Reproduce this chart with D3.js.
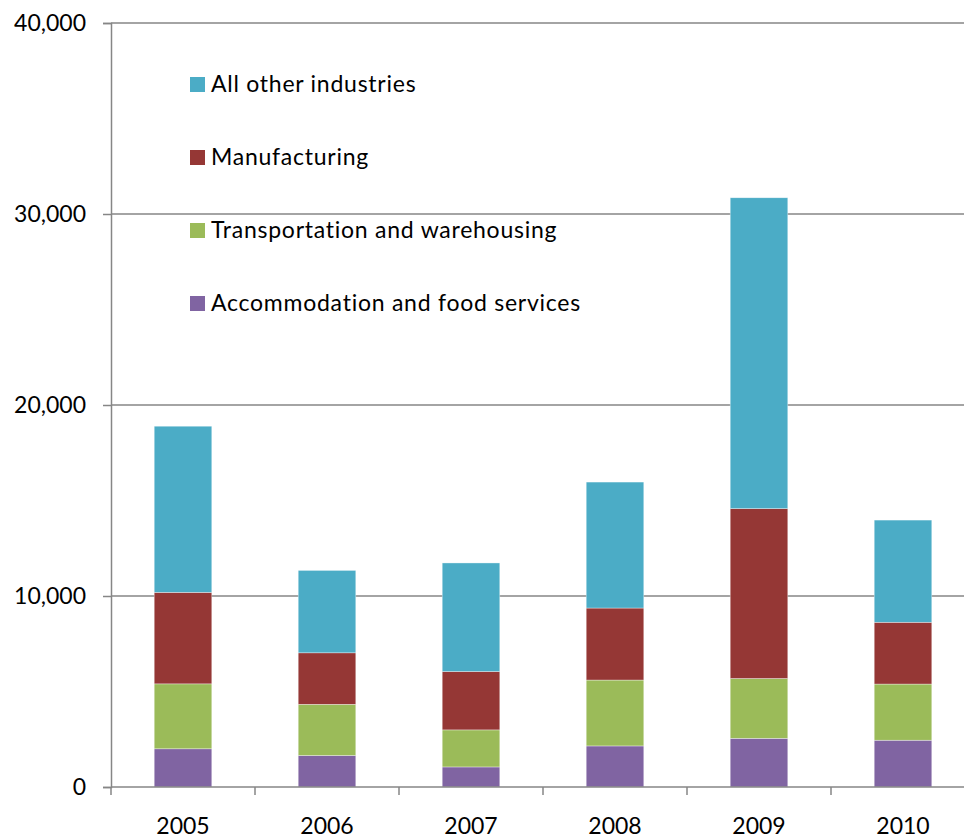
<!DOCTYPE html>
<html>
<head>
<meta charset="utf-8">
<script src="https://cdn.jsdelivr.net/npm/d3@7"></script>
<style>
  body { margin: 0; background: #fff; }
  svg { display: block; font-family: Lato, "Open Sans", sans-serif; }
</style>
</head>
<body>
<div id="chart"></div>
<script>
// data
var years = ["2005", "2006", "2007", "2008", "2009", "2010"];
var accommodation = [2000, 1650, 1050, 2150, 2550, 2450];
var transportation = [3400, 2680, 1940, 3450, 3130, 2940];
var manufacturing = [4790, 2695, 3055, 3770, 8895, 3235];
var otherIndustries = [8700, 4315, 5685, 6595, 16275, 5350];
var yTicks = [0, 10000, 20000, 30000, 40000];

var seriesNames = ["Accommodation and food services", "Transportation and warehousing", "Manufacturing", "All other industries"];
var colors = ["#8064a2", "#9bbb59", "#953735", "#4bacc6"];
var seriesValues = [accommodation, transportation, manufacturing, otherIndustries];

var width = 964, height = 840;
var margin = {top: 23, left: 111};
var plotH = 764, bandW = 144;

var rows = years.map(function (y, i) {
    var r = {year: y};
    seriesNames.forEach(function (s, j) { r[s] = seriesValues[j][i]; });
    return r;
});

var svg = d3.select("#chart").append("svg")
    .attr("width", width)
    .attr("height", height);

var x = d3.scaleBand()
    .domain(years)
    .range([margin.left, margin.left + bandW * years.length])
    .paddingInner(0.6)
    .paddingOuter(0.3);

var y = d3.scaleLinear()
    .domain([0, 40000])
    .range([margin.top + plotH, margin.top]);

// gridlines
svg.append("g")
    .selectAll("line")
    .data(yTicks.slice(1))
    .enter().append("line")
    .attr("x1", margin.left)
    .attr("x2", width)
    .attr("y1", function (d) { return y(d); })
    .attr("y2", function (d) { return y(d); })
    .attr("stroke", "#868686")
    .attr("stroke-width", 1.5);

// bars
var stack = d3.stack().keys(seriesNames);
var layers = stack(rows);

svg.append("g")
    .selectAll("g")
    .data(layers)
    .enter().append("g")
    .attr("fill", function (d, i) { return colors[i]; })
    .selectAll("rect")
    .data(function (d) { return d; })
    .enter().append("rect")
    .attr("x", function (d) { return x(d.data.year); })
    .attr("width", x.bandwidth())
    .attr("y", function (d) { return y(d[1]); })
    .attr("height", function (d) { return y(d[0]) - y(d[1]); })
    .attr("stroke", "rgba(255,255,255,0.6)")
    .attr("stroke-width", 0.6);

// y axis
var yAxis = svg.append("g")
    .attr("transform", "translate(" + margin.left + ",0)")
    .call(d3.axisLeft(y).tickValues(yTicks).tickSize(8).tickPadding(17)
        .tickFormat(d3.format(",")));
yAxis.select(".domain").attr("stroke", "#868686").attr("stroke-width", 1.5);
yAxis.selectAll(".tick line").attr("stroke", "#868686").attr("stroke-width", 1.5);
yAxis.selectAll("text").attr("font-size", "23px").attr("fill", "#000")
    .attr("font-family", "Lato, sans-serif");

// x axis: ticks at band edges
var xAxisG = svg.append("g");
xAxisG.append("line")
    .attr("x1", margin.left).attr("x2", width)
    .attr("y1", y(0)).attr("y2", y(0))
    .attr("stroke", "#868686").attr("stroke-width", 1.5);
xAxisG.selectAll(".xt")
    .data(years)
    .enter().append("line")
    .attr("class", "xt")
    .attr("x1", function (d, i) { return margin.left + i * bandW; })
    .attr("x2", function (d, i) { return margin.left + i * bandW; })
    .attr("y1", y(0)).attr("y2", y(0) + 8)
    .attr("stroke", "#868686").attr("stroke-width", 1.5);
xAxisG.selectAll(".xl")
    .data(years)
    .enter().append("text")
    .attr("class", "xl")
    .attr("x", function (d) { return x(d) + x.bandwidth() / 2; })
    .attr("y", y(0) + 47)
    .attr("text-anchor", "middle")
    .attr("font-size", "23px")
    .text(function (d) { return d; });

// legend (top to bottom reversed)
var legend = svg.append("g")
    .selectAll("g")
    .data(seriesNames.slice().reverse())
    .enter().append("g")
    .attr("transform", function (d, i) { return "translate(190," + (84 + i * 73) + ")"; });

legend.append("rect")
    .attr("x", 0).attr("y", -7)
    .attr("width", 15).attr("height", 15)
    .attr("fill", function (d) { return colors[seriesNames.indexOf(d)]; });

legend.append("text")
    .attr("x", 21)
    .attr("y", 0)
    .attr("dy", "0.35em")
    .attr("font-size", "23px")
    .attr("letter-spacing", "0.75px")
    .text(function (d) { return d; });
</script>
</body>
</html>
